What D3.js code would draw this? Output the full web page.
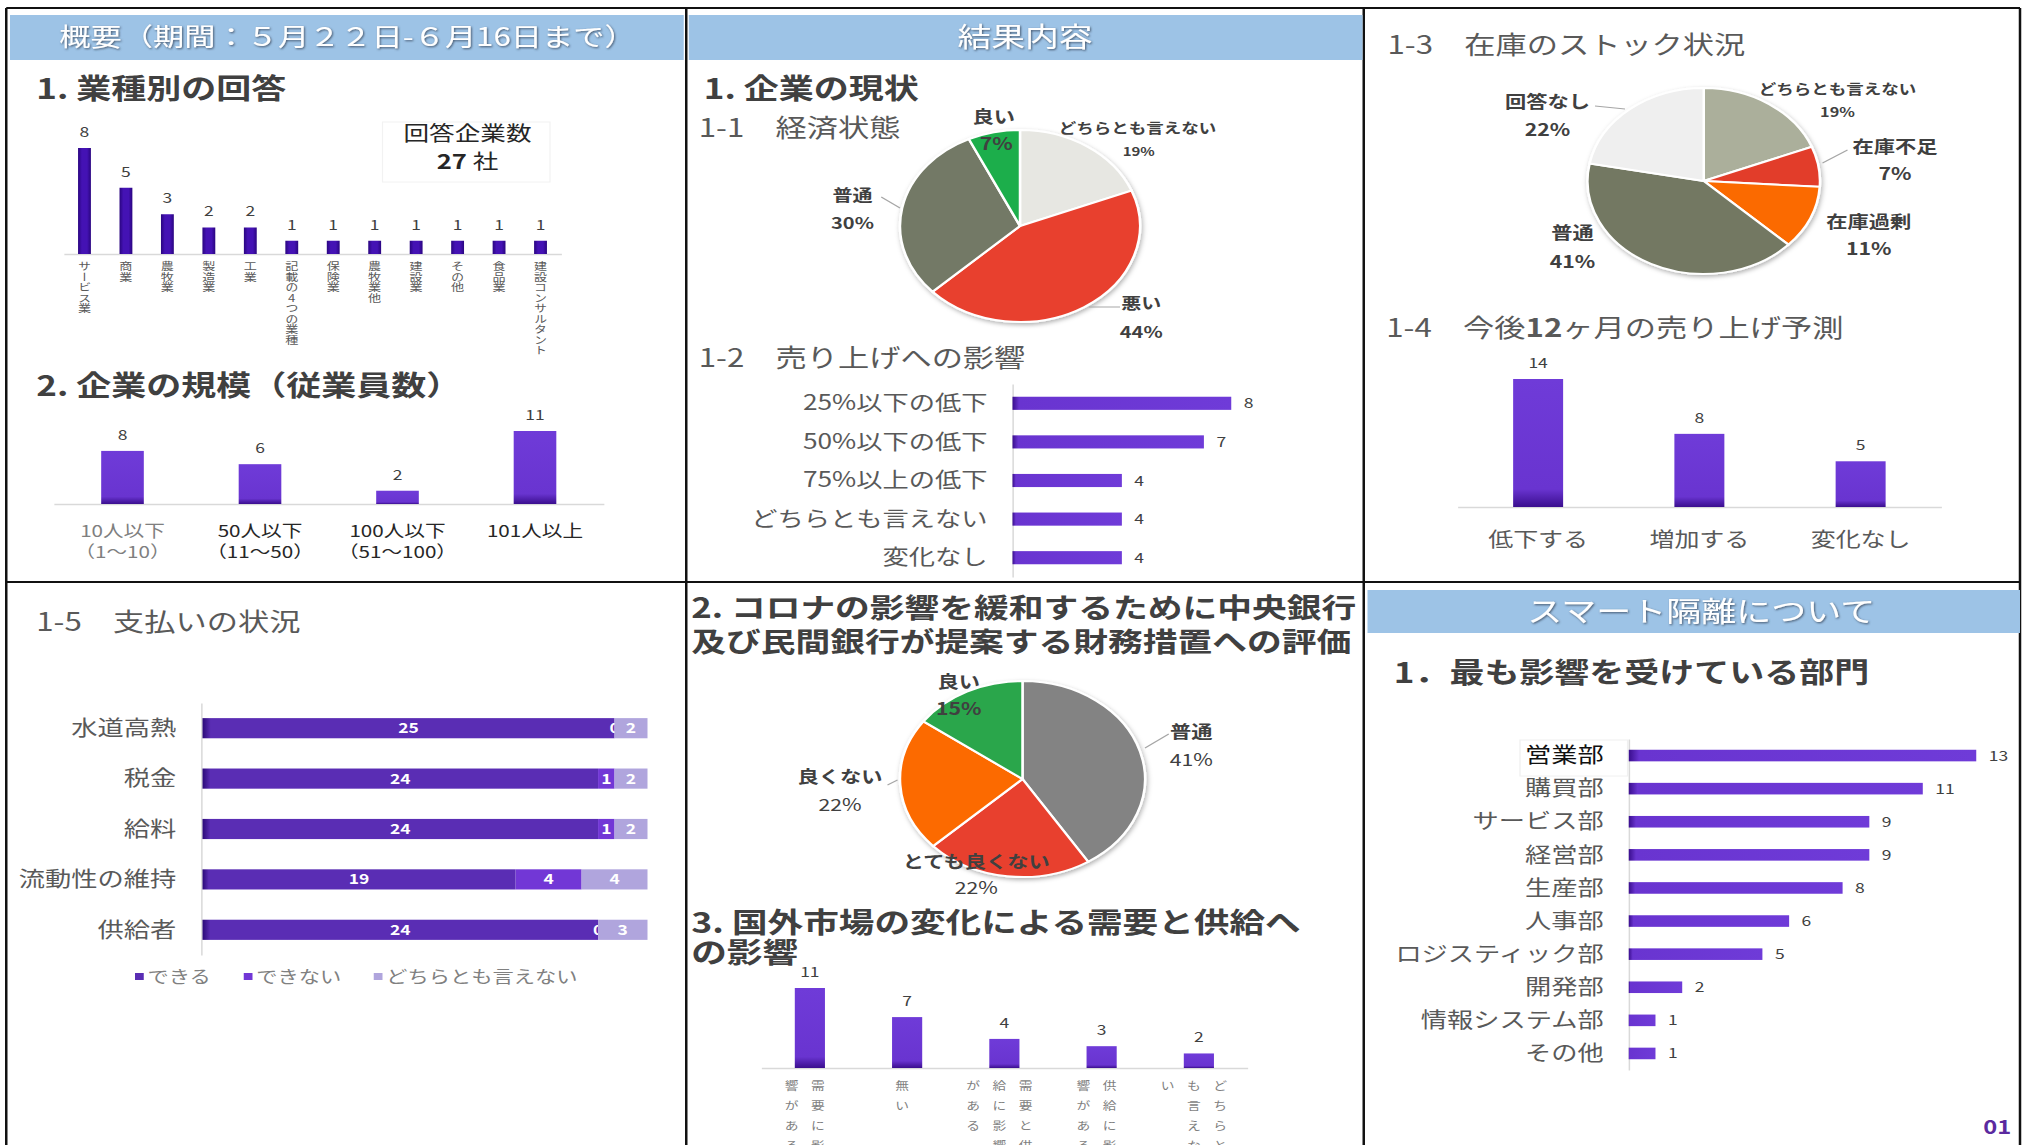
<!DOCTYPE html>
<html>
<head>
<meta charset="utf-8">
<script src="https://cdn.jsdelivr.net/npm/d3@7"></script>
<style>
  body { margin: 0; background: #fff; }
  svg { display: block; }
  text { font-family: "Noto Sans CJK JP", "Noto Sans", sans-serif; }
</style>
</head>
<body>
<div id="chart"></div>
<script>
// DATA
const INDUSTRY_CATS = ["サービス業", "商業", "農牧業", "製造業", "工業", "記載の4つの業種",
                       "保険業", "農牧業他", "建設業", "その他", "食品業", "建設コンサルタント"];
const INDUSTRY_VALUES = [8, 5, 3, 2, 2, 1, 1, 1, 1, 1, 1, 1];
const RESPONDENTS = 27;

const SIZE_CATS = ["10人以下", "50人以下", "100人以下", "101人以上"];
const SIZE_RANGES = ["（1～10）", "（11～50）", "（51～100）", ""];
const SIZE_VALUES = [8, 6, 2, 11];

const ECON_LABELS = ["どちらとも言えない", "悪い", "普通", "良い"];
const ECON_VALUES = [19, 44, 30, 7];

const SALES_CATS = ["25%以下の低下", "50%以下の低下", "75%以上の低下", "どちらとも言えない", "変化なし"];
const SALES_VALUES = [8, 7, 4, 4, 4];

const STOCK_LABELS = ["どちらとも言えない", "在庫不足", "在庫過剰", "普通", "回答なし"];
const STOCK_VALUES = [19, 7, 11, 41, 22];

const FORECAST_CATS = ["低下する", "増加する", "変化なし"];
const FORECAST_VALUES = [14, 8, 5];

const PAYMENT_CATS = ["水道高熱", "税金", "給料", "流動性の維持", "供給者"];
const PAYMENT_SERIES = ["できる", "できない", "どちらとも言えない"];
const PAYMENT_CAN = [25, 24, 24, 19, 24];
const PAYMENT_CANNOT = [0, 1, 1, 4, 0];
const PAYMENT_NEUTRAL = [2, 2, 2, 4, 3];

const MEASURE_LABELS = ["普通", "とても良くない", "良くない", "良い"];
const MEASURE_VALUES = [41, 22, 22, 15];

const MARKET_CATS = ["需要に影響がある", "無い", "需要と供給に影響がある", "供給に影響がある", "どちらとも言えない"];
const MARKET_VALUES = [11, 7, 4, 3, 2];

const DEPT_CATS = ["営業部", "購買部", "サービス部", "経営部", "生産部", "人事部",
                   "ロジスティック部", "開発部", "情報システム部", "その他"];
const DEPT_VALUES = [13, 11, 9, 9, 8, 6, 5, 2, 1, 1];

// FRAME
// the slide in the reference is stretched sideways, so draw in a narrower
// space and let the viewBox stretch it out
const WIDTH = 2023, HEIGHT = 1145;
const STRETCH = 1.25;
const VIEW_W = WIDTH / STRETCH;

const TEXT_DARK = "#404040";
const TEXT_MID = "#595959";
const AXIS_GREY = "#d9d9d9";

const svg = d3.select("#chart").append("svg")
    .attr("width", WIDTH)
    .attr("height", HEIGHT)
    .attr("viewBox", "0 0 " + VIEW_W + " " + HEIGHT)
    .attr("preserveAspectRatio", "none");

const defs = svg.append("defs");

function linGrad(id, x2, y2, stops) {
    const g = defs.append("linearGradient").attr("id", id)
        .attr("x1", 0).attr("y1", 0).attr("x2", x2).attr("y2", y2);
    stops.forEach(s => g.append("stop").attr("offset", s[0]).attr("stop-color", s[1]));
}
linGrad("colGrad", 0, 1, [["0%", "#6f3bd8"], ["86%", "#6934d0"], ["100%", "#3a0e8e"]]);
linGrad("rowGrad", 1, 0, [["0%", "#3a0e8e"], ["3%", "#6934d0"], ["100%", "#6f3bd8"]]);
linGrad("indigoGrad", 1, 0, [["0%", "#2a0580"], ["30%", "#4412b4"], ["70%", "#4412b4"], ["100%", "#2a0580"]]);
linGrad("canGrad", 1, 0, [["0%", "#2b0a78"], ["2%", "#5a2db4"], ["100%", "#5a2db4"]]);

const pieShadow = defs.append("filter").attr("id", "pieShadow")
    .attr("x", "-20%").attr("y", "-20%").attr("width", "140%").attr("height", "140%");
pieShadow.append("feDropShadow").attr("dx", 1).attr("dy", 2).attr("stdDeviation", 2)
    .attr("flood-color", "#000").attr("flood-opacity", 0.3);

const hdrShadow = defs.append("filter").attr("id", "hdrShadow")
    .attr("x", "-10%").attr("y", "-30%").attr("width", "120%").attr("height", "160%");
hdrShadow.append("feDropShadow").attr("dx", 0.8).attr("dy", 1).attr("stdDeviation", 1)
    .attr("flood-color", "#3b4b61").attr("flood-opacity", 0.9);

// panel grid
const LINES = [[5, 8, 1616, 8], [5, 582, 1616, 582],
               [5, 8, 5, HEIGHT], [549, 8, 549, HEIGHT], [1091, 8, 1091, HEIGHT], [1616, 8, 1616, HEIGHT]];
svg.selectAll(".grid").data(LINES).enter().append("line")
    .attr("x1", d => d[0]).attr("y1", d => d[1]).attr("x2", d => d[2]).attr("y2", d => d[3])
    .attr("stroke", "#111").attr("stroke-width", 2);

// blue header bands
function header(x, y, w, h, label, size, tx) {
    svg.append("rect").attr("x", x).attr("y", y).attr("width", w).attr("height", h)
        .attr("fill", "#9dc3e6");
    svg.append("text").attr("x", tx).attr("y", y + h / 2).attr("dy", "0.36em")
        .attr("text-anchor", "middle").attr("font-size", size).attr("fill", "#fff")
        .attr("filter", "url(#hdrShadow)").text(label);
}
header(8, 15, 539, 45, "概要（期間：５月２２日-６月16日まで）", 25, 278);
header(551, 15, 539, 45, "結果内容", 27, 820);
header(1094, 590, 522, 43, "スマート隔離について", 28, 1361);

function title(x, y, label, size, bold, color) {
    return svg.append("text").attr("x", x).attr("y", y).attr("dy", "0.36em")
        .attr("font-size", size).attr("font-weight", bold ? "bold" : "normal")
        .attr("fill", color).text(label);
}
title(29, 89, "1. 業種別の回答", 28, true, TEXT_DARK);
title(29, 386, "2. 企業の規模（従業員数）", 28, true, TEXT_DARK);
title(563, 89, "1. 企業の現状", 28, true, TEXT_DARK);
title(559, 128, "1-1　経済状態", 25, false, TEXT_MID);
title(559, 358, "1-2　売り上げへの影響", 25, false, TEXT_MID);
title(1110, 45, "1-3　在庫のストック状況", 25, false, TEXT_MID);
const t14 = title(1109, 328, "", 25, false, TEXT_MID);
t14.append("tspan").text("1-4　今後");
t14.append("tspan").attr("font-weight", "bold").text("12");
t14.append("tspan").text("ヶ月の売り上げ予測");
title(29, 622, "1-5　支払いの状況", 25, false, TEXT_MID);
title(553, 608, "2. コロナの影響を緩和するために中央銀行", 27.8, true, TEXT_DARK);
title(553, 642, "及び民間銀行が提案する財務措置への評価", 27.8, true, TEXT_DARK);
title(553, 923, "3. 国外市場の変化による需要と供給へ", 28.5, true, TEXT_DARK);
title(553, 953, "の影響", 28.5, true, TEXT_DARK);
title(1115, 673, "1．最も影響を受けている部門", 28, true, TEXT_DARK);

// COLUMN CHART HELPER
function columnChart(cats, values, xRange, yBase, yTop, maxV, pad, fill) {
    const x = d3.scaleBand().domain(cats).range(xRange)
        .paddingInner(pad).paddingOuter(pad / 2);
    const y = d3.scaleLinear().domain([0, maxV]).range([yBase, yTop]);
    const axis = svg.append("g").attr("transform", "translate(0," + yBase + ")")
        .call(d3.axisBottom(x).tickSize(0).tickSizeOuter(0).tickFormat(""));
    axis.select(".domain").attr("stroke", AXIS_GREY).attr("stroke-width", 1.5);
    const rows = cats.map((c, i) => ({cat: c, value: values[i]}));
    svg.selectAll(null).data(rows).enter().append("rect")
        .attr("x", d => x(d.cat)).attr("y", d => y(d.value))
        .attr("width", x.bandwidth()).attr("height", d => yBase - y(d.value))
        .attr("fill", fill);
    svg.selectAll(null).data(rows).enter().append("text")
        .attr("x", d => x(d.cat) + x.bandwidth() / 2).attr("y", d => y(d.value) - 11)
        .attr("text-anchor", "middle").attr("font-size", 14).attr("fill", TEXT_DARK)
        .text(d => d.value);
    return x;
}

// 1. industries
const xA = columnChart(INDUSTRY_CATS, INDUSTRY_VALUES, [51, 449], 254, 148, 8, 0.69, "url(#indigoGrad)");
svg.selectAll(null).data(INDUSTRY_CATS).enter().append("text")
    .attr("x", d => xA(d) + xA.bandwidth() / 2).attr("y", 261)
    .style("writing-mode", "vertical-rl").style("text-orientation", "upright")
    .attr("font-size", 10.5).attr("fill", TEXT_MID).text(d => d);

svg.append("rect").attr("x", 306).attr("y", 122).attr("width", 134).attr("height", 60)
    .attr("fill", "none").attr("stroke", "#f2f2f2");
svg.append("text").attr("x", 374).attr("y", 134).attr("dy", "0.36em").attr("text-anchor", "middle")
    .attr("font-size", 20.5).attr("fill", "#262626").text("回答企業数");
const cnt = svg.append("text").attr("x", 374).attr("y", 162).attr("dy", "0.36em")
    .attr("text-anchor", "middle").attr("font-size", 20.5).attr("fill", "#262626");
cnt.append("tspan").attr("font-weight", "bold").text(RESPONDENTS);
cnt.append("tspan").text(" 社");

// 2. company size
const xB = columnChart(SIZE_CATS, SIZE_VALUES, [43, 483], 504, 431, 11, 0.69, "url(#colGrad)");
SIZE_CATS.forEach((c, i) => {
    const cx = xB(c) + xB.bandwidth() / 2;
    const col = i === 0 ? "#7f7f7f" : "#262626";
    svg.append("text").attr("x", cx).attr("y", 537).attr("text-anchor", "middle")
        .attr("font-size", 16.5).attr("fill", col).text(c);
    svg.append("text").attr("x", cx).attr("y", 558).attr("text-anchor", "middle")
        .attr("font-size", 16.5).attr("fill", col).text(SIZE_RANGES[i]);
});

// PIE HELPER
function pieChart(cx, cy, r, labels, values, colors, layout) {
    const g = svg.append("g").attr("transform", "translate(" + cx + "," + cy + ")");
    const rows = labels.map((l, i) => ({label: l, value: values[i]}));
    const arcs = d3.pie().sort(null).value(d => d.value)(rows);
    const arc = d3.arc().innerRadius(0).outerRadius(r);
    g.append("g").attr("filter", "url(#pieShadow)")
        .selectAll("path").data(arcs).enter().append("path")
        .attr("d", arc).attr("fill", (d, i) => colors[i])
        .attr("stroke", "#fff").attr("stroke-width", 2);
    rows.forEach(d => {
        const p = layout[d.label];
        if (p.leader) {
            g.append("polyline").attr("points", p.leader.map(q => q.join(",")).join(" "))
                .attr("fill", "none").attr("stroke", "#a6a6a6").attr("stroke-width", 1);
        }
        g.append("text").attr("x", p.name[0]).attr("y", p.name[1]).attr("dy", "0.36em")
            .attr("text-anchor", "middle").attr("font-size", p.size).attr("font-weight", "bold")
            .attr("fill", TEXT_DARK).text(d.label);
        g.append("text").attr("x", p.pct[0]).attr("y", p.pct[1]).attr("dy", "0.36em")
            .attr("text-anchor", "middle").attr("font-size", p.pctSize || p.size)
            .attr("font-weight", p.pctBold === false ? "normal" : "bold")
            .attr("fill", TEXT_DARK).text(d.value + "%");
    });
}

// 1-1 economic state
pieChart(816, 226, 96, ECON_LABELS, ECON_VALUES,
    ["#e7e7e2", "#e8412f", "#737966", "#1fae4c"], {
    "どちらとも言えない": {name: [94, -98], pct: [95, -74], size: 14, pctSize: 12},
    "悪い": {name: [97, 77], pct: [97, 106], size: 16, leader: [[55, 81], [80, 81]]},
    "普通": {name: [-134, -31], pct: [-134, -3], size: 16, leader: [[-111, -29], [-96, -18]]},
    "良い": {name: [-21, -109], pct: [-19, -82], size: 17}
});

// 1-3 stock
pieChart(1363, 181, 93, STOCK_LABELS, STOCK_VALUES,
    ["#abaf9b", "#e23e2c", "#fb6a05", "#737862", "#efefef"], {
    "どちらとも言えない": {name: [107, -92], pct: [107, -69], size: 14, pctSize: 13},
    "在庫不足": {name: [153, -34], pct: [153, -7], size: 17, leader: [[115, -31], [95, -18]]},
    "在庫過剰": {name: [132, 41], pct: [132, 68], size: 17},
    "普通": {name: [-105, 52], pct: [-105, 81], size: 17},
    "回答なし": {name: [-125, -79], pct: [-125, -51], size: 17, leader: [[-87, -75], [-63, -72]]}
});

// 2. financial measures
pieChart(818, 779, 98, MEASURE_LABELS, MEASURE_VALUES,
    ["#838383", "#e8412f", "#fc6a03", "#2ca64b"], {
    "普通": {name: [135, -47], pct: [135, -19], size: 17, pctBold: false, leader: [[117, -45], [98, -31]]},
    "とても良くない": {name: [-37, 83], pct: [-37, 109], size: 17, pctBold: false},
    "良くない": {name: [-146, -2], pct: [-146, 26], size: 17, pctBold: false, leader: [[-108, 6], [-100, 1]]},
    "良い": {name: [-51, -97], pct: [-51, -70], size: 17}
});

// BAR (HORIZONTAL) HELPER
function barChart(cats, values, yRange, xRange, maxV, pad, labelSize) {
    const y = d3.scaleBand().domain(cats).range(yRange).paddingInner(pad).paddingOuter(pad / 2);
    const x = d3.scaleLinear().domain([0, maxV]).range(xRange);
    const axis = svg.append("g").attr("transform", "translate(" + xRange[0] + ",0)")
        .call(d3.axisLeft(y).tickSize(0).tickSizeOuter(0).tickPadding(20));
    axis.select(".domain").attr("stroke", AXIS_GREY).attr("stroke-width", 1.2);
    axis.selectAll("text").attr("font-size", labelSize).attr("fill", TEXT_MID)
        .style("font-family", "'Noto Sans CJK JP', sans-serif");
    const rows = cats.map((c, i) => ({cat: c, value: values[i]}));
    svg.selectAll(null).data(rows).enter().append("rect")
        .attr("x", xRange[0]).attr("y", d => y(d.cat))
        .attr("width", d => x(d.value) - xRange[0]).attr("height", y.bandwidth())
        .attr("fill", "url(#rowGrad)");
    svg.selectAll(null).data(rows).enter().append("text")
        .attr("x", d => x(d.value) + 10).attr("y", d => y(d.cat) + y.bandwidth() / 2)
        .attr("dy", "0.36em").attr("font-size", 14).attr("fill", TEXT_DARK)
        .text(d => d.value);
    return axis;
}

// 1-2 sales impact
barChart(SALES_CATS, SALES_VALUES, [384, 577], [810, 985], 8, 0.66, 21);

// 1-4 forecast
const xF = columnChart(FORECAST_CATS, FORECAST_VALUES, [1166, 1553], 507, 379, 14, 0.69, "url(#colGrad)");
svg.selectAll(null).data(FORECAST_CATS).enter().append("text")
    .attr("x", d => xF(d) + xF.bandwidth() / 2).attr("y", 540).attr("dy", "0.36em")
    .attr("text-anchor", "middle").attr("font-size", 20).attr("fill", TEXT_MID).text(d => d);

// 1-5 payments (stacked)
const PAY_COLORS = ["url(#canGrad)", "#7237d6", "#b0a5dd"];
const LEGEND_COLORS = ["#5a2db4", "#7237d6", "#b0a5dd"];
const payRows = PAYMENT_CATS.map((c, i) => ({
    cat: c, [PAYMENT_SERIES[0]]: PAYMENT_CAN[i],
    [PAYMENT_SERIES[1]]: PAYMENT_CANNOT[i], [PAYMENT_SERIES[2]]: PAYMENT_NEUTRAL[i]
}));
const yG = d3.scaleBand().domain(PAYMENT_CATS).range([703, 955]).paddingInner(0.6).paddingOuter(0.3);
const xG = d3.scaleLinear().domain([0, 27]).range([162, 518]);
const axG = svg.append("g").attr("transform", "translate(161,0)")
    .call(d3.axisLeft(yG).tickSize(0).tickSizeOuter(0).tickPadding(20));
axG.select(".domain").attr("stroke", AXIS_GREY).attr("stroke-width", 1.2);
axG.selectAll("text").attr("font-size", 21).attr("fill", TEXT_MID)
    .style("font-family", "'Noto Sans CJK JP', sans-serif");
const stacked = d3.stack().keys(PAYMENT_SERIES)(payRows);
const layers = svg.selectAll(null).data(stacked).enter().append("g")
    .attr("fill", (d, i) => PAY_COLORS[i]);
layers.selectAll("rect").data(d => d).enter().append("rect")
    .attr("x", d => xG(d[0])).attr("y", d => yG(d.data.cat))
    .attr("width", d => xG(d[1]) - xG(d[0])).attr("height", yG.bandwidth());
layers.selectAll("text").data(d => d).enter().append("text")
    .attr("x", d => (xG(d[0]) + xG(d[1])) / 2).attr("y", d => yG(d.data.cat) + yG.bandwidth() / 2)
    .attr("dy", "0.36em").attr("text-anchor", "middle").attr("font-size", 14)
    .attr("font-weight", "bold").attr("fill", "#fff")
    .text(d => d[1] - d[0]);

const LEGEND_X = [108, 195, 299];
PAYMENT_SERIES.forEach((s, i) => {
    svg.append("rect").attr("x", LEGEND_X[i]).attr("y", 973).attr("width", 7).attr("height", 7)
        .attr("fill", LEGEND_COLORS[i]);
    svg.append("text").attr("x", LEGEND_X[i] + 10).attr("y", 977).attr("dy", "0.36em")
        .attr("font-size", 17).attr("fill", "#808080").text(s);
});

// 3. overseas market
const xI = columnChart(MARKET_CATS, MARKET_VALUES, [609, 998], 1068, 988, 11, 0.69, "url(#colGrad)");
MARKET_CATS.forEach(c => {
    const cols = [];
    for (let i = 0; i < c.length; i += 4) cols.push(c.slice(i, i + 4));
    const mid = xI(c) + xI.bandwidth() / 2 - 4;
    cols.forEach((col, k) => {
        const cx = mid + ((cols.length - 1) / 2 - k) * 21;
        Array.from(col).forEach((ch, j) => {
            svg.append("text").attr("x", cx).attr("y", 1086 + j * 20).attr("dy", "0.36em")
                .attr("text-anchor", "middle").attr("font-size", 11).attr("fill", "#7f7f7f")
                .text(ch);
        });
    });
});

// smart quarantine departments
const axJ = barChart(DEPT_CATS, DEPT_VALUES, [739, 1070], [1303, 1581], 13, 0.65, 21);
axJ.selectAll("text").filter(d => d === DEPT_CATS[0]).attr("fill", "#111");
svg.append("rect").attr("x", 1216).attr("y", 740).attr("width", 86).attr("height", 36)
    .attr("fill", "none").attr("stroke", "#f0f0f0");

// page number
svg.append("text").attr("x", 1609).attr("y", 1127).attr("dy", "0.36em").attr("text-anchor", "end")
    .attr("font-size", 19).attr("font-weight", "bold").attr("fill", "#5b2a9f").text("01");
</script>
</body>
</html>
